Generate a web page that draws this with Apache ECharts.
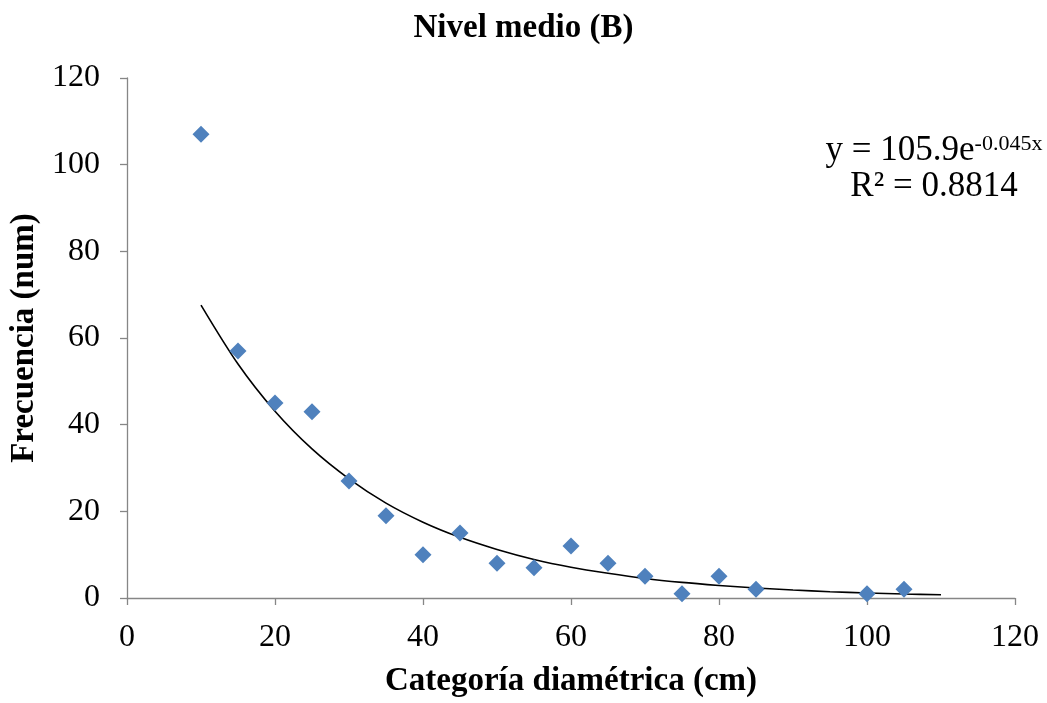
<!DOCTYPE html>
<html>
<head>
<meta charset="utf-8">
<script src="https://cdn.jsdelivr.net/npm/echarts@6/dist/echarts.min.js"></script>
<style>html,body{margin:0;padding:0;background:#fff;}#c{width:1047px;height:703px;}</style>
</head>
<body>
<div id="c"></div>
<script>
// Observed points (diameter class, frequency)
var diamClasses = [10, 15, 20, 25, 30, 35, 40, 45, 50, 55, 60, 65, 70, 75, 80, 85, 100, 105];
var frequencies = [107, 57, 45, 43, 27, 19, 10, 15, 8, 7, 12, 8, 5, 1, 5, 2, 1, 2];
// Trendline
var trendX = [10, 15, 20, 25, 30, 35, 40, 45, 50, 55, 60, 65, 70, 75, 80, 85, 90, 95, 100, 105, 110];
var trendY = [67.6, 54.0, 43.1, 34.4, 27.5, 21.9, 17.5, 14.0, 11.2, 8.9, 7.1, 5.7, 4.5, 3.6, 2.9, 2.3, 1.85, 1.45, 1.15, 0.92, 0.75];
var xTicks = [0, 20, 40, 60, 80, 100, 120];
var yTicks = [0, 20, 40, 60, 80, 100, 120];
var titleText = 'Nivel medio (B)';
var xName = 'Categoría diamétrica (cm)';
var yName = 'Frecuencia (num)';
var eqMain = 'y = 105.9e';
var eqExp = '-0.045x';
var eqR2 = 'R² = 0.8814';

var scatterData = diamClasses.map(function (x, i) { return [x, frequencies[i]]; });
var trendData = trendX.map(function (x, i) { return [x, trendY[i]]; });
var font = '"Liberation Serif", "Times New Roman", serif';
var axisColor = '#868686';

var chart = echarts.init(document.getElementById('c'), null, { renderer: 'canvas' });
chart.setOption({
  backgroundColor: '#ffffff',
  animation: false,
  textStyle: { fontFamily: font },
  title: {
    text: titleText,
    left: 'center',
    top: 7,
    textStyle: { fontFamily: font, fontSize: 33, fontWeight: 'bold', color: '#000' }
  },
  graphic: [{
    type: 'text',
    x: 934,
    y: 133,
    z: 10,
    style: {
      text: '{b|' + eqMain + '}{s|' + eqExp + '}\n{b|' + eqR2 + '}',
      align: 'center',
      verticalAlign: 'top',
      fill: '#000',
      rich: {
        b: { fontFamily: font, fontSize: 35, fontWeight: 'normal', fill: '#000', lineHeight: 36 },
        s: { fontFamily: font, fontSize: 22, fontWeight: 'normal', fill: '#000', verticalAlign: 'top', lineHeight: 20 }
      }
    }
  }],
  grid: { left: 127, right: 32, top: 78, bottom: 105 },
  xAxis: {
    type: 'value',
    min: xTicks[0], max: xTicks[xTicks.length - 1], interval: 20,
    name: xName, nameLocation: 'middle', nameGap: 67,
    nameTextStyle: { fontFamily: font, fontSize: 33, fontWeight: 'bold', color: '#000' },
    axisLine: { show: true, lineStyle: { color: axisColor, width: 1.3 } },
    axisTick: { show: true, length: 7, lineStyle: { color: axisColor, width: 1.3 } },
    axisLabel: { fontFamily: font, fontSize: 32, color: '#000', margin: 24 },
    splitLine: { show: false }
  },
  yAxis: {
    type: 'value',
    min: yTicks[0], max: yTicks[yTicks.length - 1], interval: 20,
    name: yName, nameLocation: 'middle', nameGap: 81,
    nameTextStyle: { fontFamily: font, fontSize: 33, fontWeight: 'bold', color: '#000' },
    axisLine: { show: true, lineStyle: { color: axisColor, width: 1.3 } },
    axisTick: { show: true, length: 7, lineStyle: { color: axisColor, width: 1.3 } },
    axisLabel: { fontFamily: font, fontSize: 32, color: '#000', margin: 27 },
    splitLine: { show: false }
  },
  series: [{
    type: 'line',
    data: trendData,
    smooth: 0.3,
    showSymbol: false,
    symbol: 'none',
    lineStyle: { color: '#000', width: 1.6 },
    z: 2
  }, {
    type: 'scatter',
    data: scatterData,
    symbol: 'diamond',
    symbolSize: [17, 17],
    itemStyle: { color: '#4F81BD', opacity: 1 },
    z: 3
  }]
});
</script>
</body>
</html>
